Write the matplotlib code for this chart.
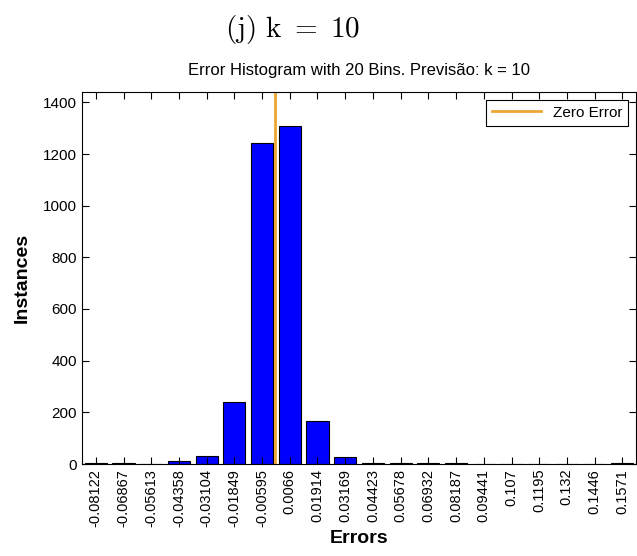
import numpy as np
import matplotlib
matplotlib.use("Agg")
import matplotlib.pyplot as plt

plt.rcParams['font.family'] = ['Liberation Sans', 'DejaVu Sans']
plt.rcParams['mathtext.fontset'] = 'cm'

# bin centres (as printed on the x axis) and counts per bin
centros = [-0.08122, -0.06867, -0.05613, -0.04358, -0.03104, -0.01849, -0.00595,
           0.0066, 0.01914, 0.03169, 0.04423, 0.05678, 0.06932, 0.08187,
           0.09441, 0.107, 0.1195, 0.132, 0.1446, 0.1571]
etiquetas = ["-0.08122", "-0.06867", "-0.05613", "-0.04358", "-0.03104", "-0.01849",
             "-0.00595", "0.0066", "0.01914", "0.03169", "0.04423", "0.05678",
             "0.06932", "0.08187", "0.09441", "0.107", "0.1195", "0.132", "0.1446", "0.1571"]
cuentas = [3, 3, 0, 12, 30, 240, 1243, 1310, 165, 28, 2, 2, 2, 2, 0, 0, 0, 0, 0, 3]

w = (centros[-1] - centros[0]) / 19.0

fig = plt.figure(figsize=(6.37, 5.56), dpi=100)
ax = fig.add_axes([82/637, 92/556, 554/637, 372/556])

ax.bar(centros, cuentas, width=w*0.8, color='#0000ff', edgecolor='black', linewidth=0.8)
ax.axvline(0, color='#eda532', linewidth=2, label='Zero Error')

ax.set_xlim(centros[0] - w/2, centros[-1] + w/2)
ax.set_ylim(0, 1440)
ax.set_xticks(centros)
ax.set_xticklabels(etiquetas, rotation=90, fontsize=10.5)
ax.set_yticks(np.arange(0, 1401, 200))
ax.tick_params(axis='y', labelsize=11)
ax.tick_params(direction='in', top=True, right=True, length=5, width=0.8)
for s in ax.spines.values():
    s.set_linewidth(0.8)

ax.set_xlabel('Errors', fontsize=14, fontweight='bold', labelpad=2)
ax.set_ylabel('Instances', fontsize=14, fontweight='bold', labelpad=9)
ax.set_title(u'Error Histogram with 20 Bins. Previsão: k = 10', fontsize=12, pad=12)

leg = ax.legend(loc='upper right', fontsize=11, fancybox=False, framealpha=1,
                edgecolor='black', handlelength=3.2, borderpad=0.4)
leg.get_frame().set_linewidth(0.8)

fig.text(293/637, 1 - 30/556, r'$\mathrm{(j)\ k\ =\ 10}$', fontsize=21, ha='center', va='center')

fig.savefig('out.png', dpi=100)
